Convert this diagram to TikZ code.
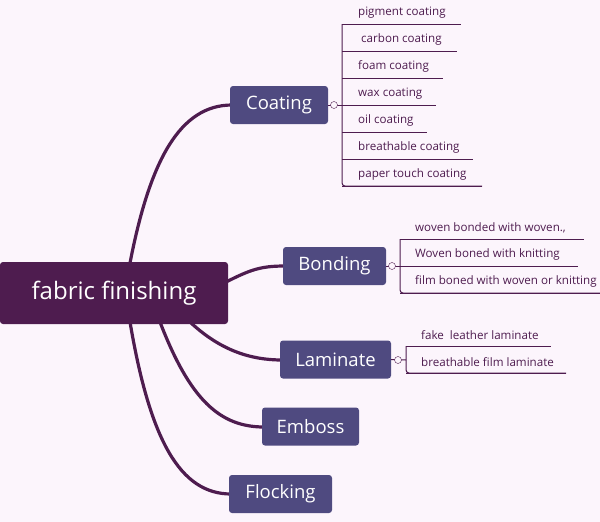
\documentclass[tikz,border=0pt]{standalone}
\usepackage{fontspec}
\setmainfont{Open Sans}
\begin{document}
\definecolor{bg}{HTML}{FCF5FC}
\definecolor{rootc}{HTML}{4E1C4F}
\definecolor{mainc}{HTML}{4F4A80}
\definecolor{linec}{HTML}{4E1C4F}
\begin{tikzpicture}[x=1pt,y=-1pt,
  root/.style={fill=rootc,rounded corners=3pt,text=white,font=\fontsize{24}{28}\selectfont,minimum width=228pt,minimum height=62pt,inner sep=0pt},
  main/.style={fill=mainc,rounded corners=3pt,text=white,font=\fontsize{18.5}{21}\selectfont,minimum height=38pt,inner sep=0pt},
  leaf/.style={anchor=south west,text=linec,font=\fontsize{11.6}{13}\selectfont,inner sep=0pt},
  br/.style={draw=linec,line width=3.2pt},
  ln/.style={draw=linec,line width=1pt},
  knob/.style={circle,draw=linec,fill=bg,inner sep=0pt,minimum size=7pt}]
\fill[bg] (0,0) rectangle (600,522);
\useasboundingbox (0,0) rectangle (600,522);
% branches
\coordinate (r1) at (130,263);
\coordinate (r2) at (226,282);
\coordinate (r3) at (190,322);
\coordinate (r4) at (160,322);
\coordinate (r5) at (130,322);
\draw[br] (r1) .. controls (150,160) and (180,105) .. (232,105);
\draw[br] (r2) .. controls (250,270) and (260,266) .. (285,266);
\draw[br] (r3) .. controls (220,350) and (250,360) .. (282,360);
\draw[br] (r4) .. controls (190,400) and (220,427) .. (264,427);
\draw[br] (r5) .. controls (150,440) and (180,494) .. (231,494);
\node[root] (root) at (114,293) {fabric finishing};
\node[main,minimum width=98pt] (coat) at (279,105) {Coating};
\node[main,minimum width=103pt] (bond) at (334.5,266) {Bonding};
\node[main,minimum width=111pt] (lam) at (335.5,359.5) {Laminate};
\node[main,minimum width=97pt] (emb) at (310.5,426.5) {Emboss};
\node[main,minimum width=103pt] (flo) at (280.5,494) {Flocking};
% Coating leaves
\draw[ln,rounded corners=3pt] (342,24) -- (342,186) -- (482,186);
\draw[ln] (coat.east) -- (342,105);
\node[knob] (k1) at (334,105) {};
\foreach \y/\e/\t in {24/461/pigment coating,51/457/{\ }carbon coating,78/443/foam coating,105/436/wax coating,132/427/oil coating,159/473/breathable coating,186/482/paper touch coating}{
  \draw[ln] (342,\y) -- (\e,\y);
  \node[leaf] at (358,\y-6) {\t};}
% Bonding leaves
\draw[ln,rounded corners=3pt] (400,239) -- (400,293) -- (600,293);
\draw[ln] (bond.east) -- (400,266);
\node[knob] (k2) at (392,266) {};
\foreach \y/\e/\t in {239/584/{woven bonded with woven.,},266/578/Woven boned with knitting,293/600/film boned with woven or knitting}{
  \draw[ln] (400,\y) -- (\e,\y);
  \node[leaf] at (415,\y-6) {\t};}
% Laminate leaves
\draw[ln,rounded corners=3pt] (406,346) -- (406,373) -- (566,373);
\draw[ln] (lam.east) -- (406,360);
\node[knob] (k3) at (398,360) {};
\foreach \y/\e/\t in {346/551/fake\ \ leather laminate,373/566/breathable film laminate}{
  \draw[ln] (406,\y) -- (\e,\y);
  \node[leaf] at (421,\y-6) {\t};}
\end{tikzpicture}
\end{document}
